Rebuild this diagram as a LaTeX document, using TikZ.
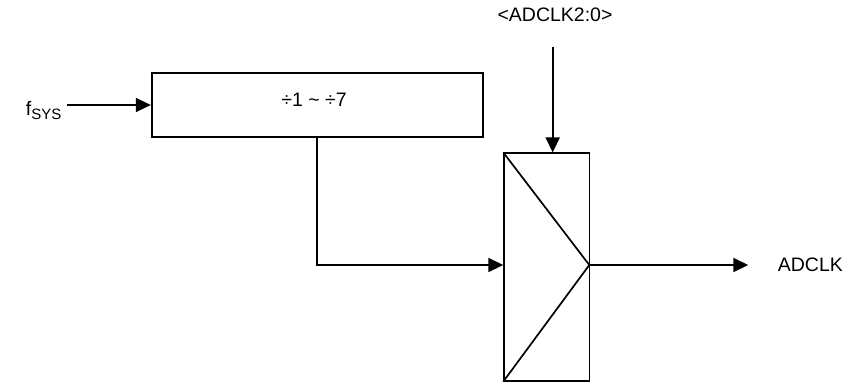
\documentclass[tikz,border=0pt]{standalone}
\usepackage{fontspec}
\setmainfont{Liberation Sans}
\usetikzlibrary{arrows.meta}
\begin{document}
\begin{tikzpicture}[x=1pt,y=-1pt,
  line width=1.7pt,
  arr/.style={-{Triangle[length=15pt,width=14pt]}},
  blk/.style={draw,rectangle,inner sep=0pt,line width=1.7pt},
  lbl/.style={inner sep=0pt,font=\fontsize{19.5}{22}\selectfont}]
\useasboundingbox (0,0) rectangle (847,383);
\node[blk,minimum width=331pt,minimum height=63.4pt] (div) at (317.2,105) {};
\node[lbl] (divtxt) at (314,100) {÷1 \textasciitilde\ ÷7};
\node[blk,minimum width=85.3pt,minimum height=227.4pt] (mux) at (546.8,267) {};
\coordinate (tip) at (589.3,265);
\draw (mux.north west) -- (tip) -- (mux.south west);
\node[lbl,anchor=base west] (fsys) at (25,115) {f\raisebox{-4.5pt}{\fontsize{15}{18}\selectfont SYS}};
\coordinate (fin) at (67,105);
\draw[arr] (fin) -- (div.west |- fin);
\node[lbl] (sel) at (555,15) {<ADCLK2:0>};
\coordinate (selstart) at (552.7,46.7);
\draw[arr] (selstart) -- (selstart |- mux.north);
\coordinate (brk) at (317.3,265);
\draw[arr] (div.south -| brk) -- (brk) -- (mux.west |- brk);
\node[lbl,anchor=west] (out) at (777,265) {ADCLK};
\coordinate (outend) at (748.3,265);
\draw[arr] (tip) -- (outend);
\end{tikzpicture}
\end{document}
